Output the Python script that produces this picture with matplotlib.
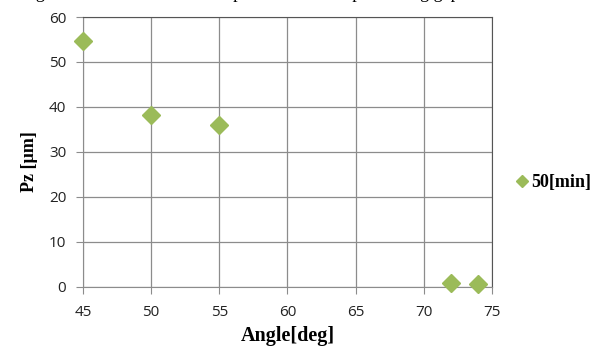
import matplotlib.pyplot as plt

angle = [45, 50, 55, 72, 74]
pz = [54.7, 38.2, 36.0, 0.8, 0.6]
series_name = '50[min]'
x_ticks = [45, 50, 55, 60, 65, 70, 75]
y_ticks = [0, 10, 20, 30, 40, 50, 60]

fig = plt.figure(figsize=(6.05, 3.47), dpi=100)
ax = fig.add_axes([0.137, 0.173, 0.676, 0.778])

ax.plot(angle, pz, linestyle='none', marker='D', markersize=9.5, color='#9BBB59',
        markeredgecolor='#9BBB59', label=series_name, clip_on=False, zorder=3)

ax.set_xlim(45, 75)
ax.set_ylim(0, 60)
ax.set_xticks(x_ticks)
ax.set_yticks(y_ticks)
ax.grid(True, color='#8c8c8c', linewidth=0.9)
for s in ['left', 'bottom']:
    ax.spines[s].set_color('#8c8c8c')
for s in ['top', 'right']:
    ax.spines[s].set_color('#555555')
ax.tick_params(colors='#8c8c8c', labelcolor='#222222', labelsize=11, length=5)
ax.tick_params(axis='x', pad=8)
ax.tick_params(axis='y', pad=7)
for lab in ax.get_xticklabels() + ax.get_yticklabels():
    lab.set_family('Open Sans')

ax.set_xlabel('Angle[deg]', family='Liberation Serif', fontweight='bold', fontsize=14.5)
ax.xaxis.set_label_coords(0.5, -0.145, transform=ax.transAxes)
ax.xaxis.label.set_va('top')
ax.set_ylabel('Pz [µm]', family='Liberation Serif', fontweight='bold', fontsize=13)
ax.yaxis.set_label_coords(-0.11, 0.463)

fig.legend(handles=ax.get_lines(), loc='center left', bbox_to_anchor=(0.8265, 0.473), frameon=False,
           prop={'family': 'Liberation Serif', 'weight': 'bold', 'size': 13},
           handlelength=0.6, handletextpad=0.25, markerscale=0.6)

# caption of the page, cut off at the top edge
fig.text(0.035, 1.0 + 2 / 347, 'Fig. 10 Relation between the position and the processing gap',
         family='Liberation Serif', fontsize=13, va='baseline', ha='left')

fig.savefig('out.png', dpi=100)
